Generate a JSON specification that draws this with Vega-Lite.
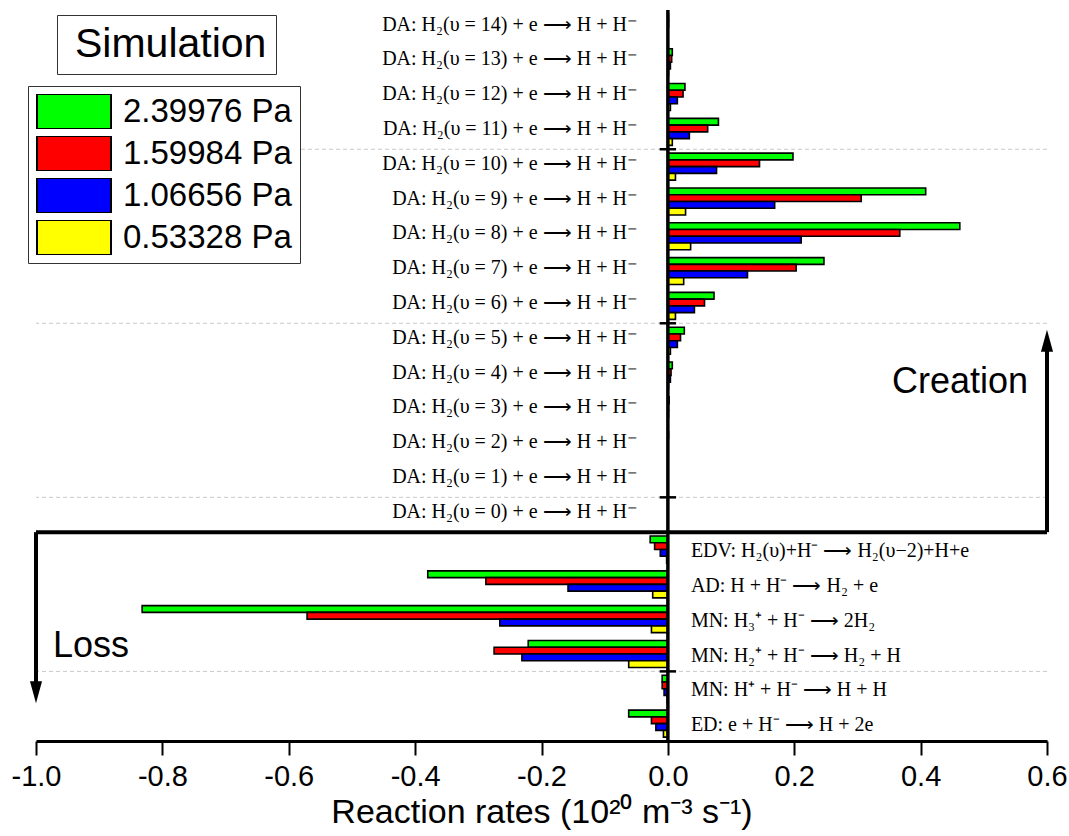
{
  "$schema": "https://vega.github.io/schema/vega-lite/v6.json",
  "width": 1011,
  "height": 731,
  "autosize": {"type": "none"},
  "padding": {"left": 36, "top": 10, "right": 22, "bottom": 95},
  "background": "white",
  "config": {
    "view": {"stroke": null},
    "font": "Liberation Sans",
    "axisY": {"disable": true}
  },
  "datasets": {
    "rates": [
      {"reaction": "DA: H₂(υ = 14) + e ⟶ H + H⁻", "pressure": "2.39976 Pa", "rate": 0.001},
      {"reaction": "DA: H₂(υ = 14) + e ⟶ H + H⁻", "pressure": "1.59984 Pa", "rate": 0.001},
      {"reaction": "DA: H₂(υ = 14) + e ⟶ H + H⁻", "pressure": "1.06656 Pa", "rate": 0.0005},
      {"reaction": "DA: H₂(υ = 14) + e ⟶ H + H⁻", "pressure": "0.53328 Pa", "rate": 0.0002},
      {"reaction": "DA: H₂(υ = 13) + e ⟶ H + H⁻", "pressure": "2.39976 Pa", "rate": 0.007},
      {"reaction": "DA: H₂(υ = 13) + e ⟶ H + H⁻", "pressure": "1.59984 Pa", "rate": 0.006},
      {"reaction": "DA: H₂(υ = 13) + e ⟶ H + H⁻", "pressure": "1.06656 Pa", "rate": 0.004},
      {"reaction": "DA: H₂(υ = 13) + e ⟶ H + H⁻", "pressure": "0.53328 Pa", "rate": 0.001},
      {"reaction": "DA: H₂(υ = 12) + e ⟶ H + H⁻", "pressure": "2.39976 Pa", "rate": 0.027},
      {"reaction": "DA: H₂(υ = 12) + e ⟶ H + H⁻", "pressure": "1.59984 Pa", "rate": 0.024},
      {"reaction": "DA: H₂(υ = 12) + e ⟶ H + H⁻", "pressure": "1.06656 Pa", "rate": 0.015},
      {"reaction": "DA: H₂(υ = 12) + e ⟶ H + H⁻", "pressure": "0.53328 Pa", "rate": 0.004},
      {"reaction": "DA: H₂(υ = 11) + e ⟶ H + H⁻", "pressure": "2.39976 Pa", "rate": 0.080},
      {"reaction": "DA: H₂(υ = 11) + e ⟶ H + H⁻", "pressure": "1.59984 Pa", "rate": 0.063},
      {"reaction": "DA: H₂(υ = 11) + e ⟶ H + H⁻", "pressure": "1.06656 Pa", "rate": 0.034},
      {"reaction": "DA: H₂(υ = 11) + e ⟶ H + H⁻", "pressure": "0.53328 Pa", "rate": 0.007},
      {"reaction": "DA: H₂(υ = 10) + e ⟶ H + H⁻", "pressure": "2.39976 Pa", "rate": 0.198},
      {"reaction": "DA: H₂(υ = 10) + e ⟶ H + H⁻", "pressure": "1.59984 Pa", "rate": 0.145},
      {"reaction": "DA: H₂(υ = 10) + e ⟶ H + H⁻", "pressure": "1.06656 Pa", "rate": 0.077},
      {"reaction": "DA: H₂(υ = 10) + e ⟶ H + H⁻", "pressure": "0.53328 Pa", "rate": 0.012},
      {"reaction": "DA: H₂(υ = 9) + e ⟶ H + H⁻", "pressure": "2.39976 Pa", "rate": 0.408},
      {"reaction": "DA: H₂(υ = 9) + e ⟶ H + H⁻", "pressure": "1.59984 Pa", "rate": 0.306},
      {"reaction": "DA: H₂(υ = 9) + e ⟶ H + H⁻", "pressure": "1.06656 Pa", "rate": 0.169},
      {"reaction": "DA: H₂(υ = 9) + e ⟶ H + H⁻", "pressure": "0.53328 Pa", "rate": 0.028},
      {"reaction": "DA: H₂(υ = 8) + e ⟶ H + H⁻", "pressure": "2.39976 Pa", "rate": 0.462},
      {"reaction": "DA: H₂(υ = 8) + e ⟶ H + H⁻", "pressure": "1.59984 Pa", "rate": 0.367},
      {"reaction": "DA: H₂(υ = 8) + e ⟶ H + H⁻", "pressure": "1.06656 Pa", "rate": 0.211},
      {"reaction": "DA: H₂(υ = 8) + e ⟶ H + H⁻", "pressure": "0.53328 Pa", "rate": 0.036},
      {"reaction": "DA: H₂(υ = 7) + e ⟶ H + H⁻", "pressure": "2.39976 Pa", "rate": 0.247},
      {"reaction": "DA: H₂(υ = 7) + e ⟶ H + H⁻", "pressure": "1.59984 Pa", "rate": 0.203},
      {"reaction": "DA: H₂(υ = 7) + e ⟶ H + H⁻", "pressure": "1.06656 Pa", "rate": 0.126},
      {"reaction": "DA: H₂(υ = 7) + e ⟶ H + H⁻", "pressure": "0.53328 Pa", "rate": 0.025},
      {"reaction": "DA: H₂(υ = 6) + e ⟶ H + H⁻", "pressure": "2.39976 Pa", "rate": 0.073},
      {"reaction": "DA: H₂(υ = 6) + e ⟶ H + H⁻", "pressure": "1.59984 Pa", "rate": 0.058},
      {"reaction": "DA: H₂(υ = 6) + e ⟶ H + H⁻", "pressure": "1.06656 Pa", "rate": 0.042},
      {"reaction": "DA: H₂(υ = 6) + e ⟶ H + H⁻", "pressure": "0.53328 Pa", "rate": 0.012},
      {"reaction": "DA: H₂(υ = 5) + e ⟶ H + H⁻", "pressure": "2.39976 Pa", "rate": 0.026},
      {"reaction": "DA: H₂(υ = 5) + e ⟶ H + H⁻", "pressure": "1.59984 Pa", "rate": 0.020},
      {"reaction": "DA: H₂(υ = 5) + e ⟶ H + H⁻", "pressure": "1.06656 Pa", "rate": 0.015},
      {"reaction": "DA: H₂(υ = 5) + e ⟶ H + H⁻", "pressure": "0.53328 Pa", "rate": 0.004},
      {"reaction": "DA: H₂(υ = 4) + e ⟶ H + H⁻", "pressure": "2.39976 Pa", "rate": 0.007},
      {"reaction": "DA: H₂(υ = 4) + e ⟶ H + H⁻", "pressure": "1.59984 Pa", "rate": 0.005},
      {"reaction": "DA: H₂(υ = 4) + e ⟶ H + H⁻", "pressure": "1.06656 Pa", "rate": 0.004},
      {"reaction": "DA: H₂(υ = 4) + e ⟶ H + H⁻", "pressure": "0.53328 Pa", "rate": 0.001},
      {"reaction": "DA: H₂(υ = 3) + e ⟶ H + H⁻", "pressure": "2.39976 Pa", "rate": 0.002},
      {"reaction": "DA: H₂(υ = 3) + e ⟶ H + H⁻", "pressure": "1.59984 Pa", "rate": 0.001},
      {"reaction": "DA: H₂(υ = 3) + e ⟶ H + H⁻", "pressure": "1.06656 Pa", "rate": 0.001},
      {"reaction": "DA: H₂(υ = 3) + e ⟶ H + H⁻", "pressure": "0.53328 Pa", "rate": 0.0003},
      {"reaction": "DA: H₂(υ = 2) + e ⟶ H + H⁻", "pressure": "2.39976 Pa", "rate": 0.001},
      {"reaction": "DA: H₂(υ = 2) + e ⟶ H + H⁻", "pressure": "1.59984 Pa", "rate": 0.0005},
      {"reaction": "DA: H₂(υ = 2) + e ⟶ H + H⁻", "pressure": "1.06656 Pa", "rate": 0.0004},
      {"reaction": "DA: H₂(υ = 2) + e ⟶ H + H⁻", "pressure": "0.53328 Pa", "rate": 0.0001},
      {"reaction": "DA: H₂(υ = 1) + e ⟶ H + H⁻", "pressure": "2.39976 Pa", "rate": 0.0005},
      {"reaction": "DA: H₂(υ = 1) + e ⟶ H + H⁻", "pressure": "1.59984 Pa", "rate": 0.0003},
      {"reaction": "DA: H₂(υ = 1) + e ⟶ H + H⁻", "pressure": "1.06656 Pa", "rate": 0.0002},
      {"reaction": "DA: H₂(υ = 1) + e ⟶ H + H⁻", "pressure": "0.53328 Pa", "rate": 0.0001},
      {"reaction": "DA: H₂(υ = 0) + e ⟶ H + H⁻", "pressure": "2.39976 Pa", "rate": 0.0002},
      {"reaction": "DA: H₂(υ = 0) + e ⟶ H + H⁻", "pressure": "1.59984 Pa", "rate": 0.0001},
      {"reaction": "DA: H₂(υ = 0) + e ⟶ H + H⁻", "pressure": "1.06656 Pa", "rate": 0.0001},
      {"reaction": "DA: H₂(υ = 0) + e ⟶ H + H⁻", "pressure": "0.53328 Pa", "rate": 0.00005},
      {"reaction": "EDV: H₂(υ)+H⁻ ⟶ H₂(υ−2)+H+e", "pressure": "2.39976 Pa", "rate": -0.028},
      {"reaction": "EDV: H₂(υ)+H⁻ ⟶ H₂(υ−2)+H+e", "pressure": "1.59984 Pa", "rate": -0.021},
      {"reaction": "EDV: H₂(υ)+H⁻ ⟶ H₂(υ−2)+H+e", "pressure": "1.06656 Pa", "rate": -0.012},
      {"reaction": "EDV: H₂(υ)+H⁻ ⟶ H₂(υ−2)+H+e", "pressure": "0.53328 Pa", "rate": -0.002},
      {"reaction": "AD: H + H⁻ ⟶ H₂ + e", "pressure": "2.39976 Pa", "rate": -0.380},
      {"reaction": "AD: H + H⁻ ⟶ H₂ + e", "pressure": "1.59984 Pa", "rate": -0.288},
      {"reaction": "AD: H + H⁻ ⟶ H₂ + e", "pressure": "1.06656 Pa", "rate": -0.158},
      {"reaction": "AD: H + H⁻ ⟶ H₂ + e", "pressure": "0.53328 Pa", "rate": -0.024},
      {"reaction": "MN: H₃⁺ + H⁻ ⟶ 2H₂", "pressure": "2.39976 Pa", "rate": -0.832},
      {"reaction": "MN: H₃⁺ + H⁻ ⟶ 2H₂", "pressure": "1.59984 Pa", "rate": -0.571},
      {"reaction": "MN: H₃⁺ + H⁻ ⟶ 2H₂", "pressure": "1.06656 Pa", "rate": -0.266},
      {"reaction": "MN: H₃⁺ + H⁻ ⟶ 2H₂", "pressure": "0.53328 Pa", "rate": -0.026},
      {"reaction": "MN: H₂⁺ + H⁻ ⟶ H₂ + H", "pressure": "2.39976 Pa", "rate": -0.221},
      {"reaction": "MN: H₂⁺ + H⁻ ⟶ H₂ + H", "pressure": "1.59984 Pa", "rate": -0.275},
      {"reaction": "MN: H₂⁺ + H⁻ ⟶ H₂ + H", "pressure": "1.06656 Pa", "rate": -0.231},
      {"reaction": "MN: H₂⁺ + H⁻ ⟶ H₂ + H", "pressure": "0.53328 Pa", "rate": -0.062},
      {"reaction": "MN: H⁺ + H⁻ ⟶ H + H", "pressure": "2.39976 Pa", "rate": -0.009},
      {"reaction": "MN: H⁺ + H⁻ ⟶ H + H", "pressure": "1.59984 Pa", "rate": -0.009},
      {"reaction": "MN: H⁺ + H⁻ ⟶ H + H", "pressure": "1.06656 Pa", "rate": -0.006},
      {"reaction": "MN: H⁺ + H⁻ ⟶ H + H", "pressure": "0.53328 Pa", "rate": -0.001},
      {"reaction": "ED: e + H⁻ ⟶ H + 2e", "pressure": "2.39976 Pa", "rate": -0.062},
      {"reaction": "ED: e + H⁻ ⟶ H + 2e", "pressure": "1.59984 Pa", "rate": -0.026},
      {"reaction": "ED: e + H⁻ ⟶ H + 2e", "pressure": "1.06656 Pa", "rate": -0.019},
      {"reaction": "ED: e + H⁻ ⟶ H + 2e", "pressure": "0.53328 Pa", "rate": -0.007}
    ],
    "labels": [
      {"reaction": "DA: H₂(υ = 14) + e ⟶ H + H⁻", "kind": "creation"},
      {"reaction": "DA: H₂(υ = 13) + e ⟶ H + H⁻", "kind": "creation"},
      {"reaction": "DA: H₂(υ = 12) + e ⟶ H + H⁻", "kind": "creation"},
      {"reaction": "DA: H₂(υ = 11) + e ⟶ H + H⁻", "kind": "creation"},
      {"reaction": "DA: H₂(υ = 10) + e ⟶ H + H⁻", "kind": "creation"},
      {"reaction": "DA: H₂(υ = 9) + e ⟶ H + H⁻", "kind": "creation"},
      {"reaction": "DA: H₂(υ = 8) + e ⟶ H + H⁻", "kind": "creation"},
      {"reaction": "DA: H₂(υ = 7) + e ⟶ H + H⁻", "kind": "creation"},
      {"reaction": "DA: H₂(υ = 6) + e ⟶ H + H⁻", "kind": "creation"},
      {"reaction": "DA: H₂(υ = 5) + e ⟶ H + H⁻", "kind": "creation"},
      {"reaction": "DA: H₂(υ = 4) + e ⟶ H + H⁻", "kind": "creation"},
      {"reaction": "DA: H₂(υ = 3) + e ⟶ H + H⁻", "kind": "creation"},
      {"reaction": "DA: H₂(υ = 2) + e ⟶ H + H⁻", "kind": "creation"},
      {"reaction": "DA: H₂(υ = 1) + e ⟶ H + H⁻", "kind": "creation"},
      {"reaction": "DA: H₂(υ = 0) + e ⟶ H + H⁻", "kind": "creation"},
      {"reaction": "EDV: H₂(υ)+H⁻ ⟶ H₂(υ−2)+H+e", "kind": "loss"},
      {"reaction": "AD: H + H⁻ ⟶ H₂ + e", "kind": "loss"},
      {"reaction": "MN: H₃⁺ + H⁻ ⟶ 2H₂", "kind": "loss"},
      {"reaction": "MN: H₂⁺ + H⁻ ⟶ H₂ + H", "kind": "loss"},
      {"reaction": "MN: H⁺ + H⁻ ⟶ H + H", "kind": "loss"},
      {"reaction": "ED: e + H⁻ ⟶ H + 2e", "kind": "loss"}
    ],
    "dividers": [
      {"reaction": "DA: H₂(υ = 10) + e ⟶ H + H⁻"},
      {"reaction": "DA: H₂(υ = 5) + e ⟶ H + H⁻"},
      {"reaction": "DA: H₂(υ = 0) + e ⟶ H + H⁻"},
      {"reaction": "MN: H⁺ + H⁻ ⟶ H + H"}
    ],
    "annot": [{"note": "annotation"}]
  },
  "layer": [
    {
      "data": {"name": "dividers"},
      "mark": {"type": "rule", "color": "#c8c8c8", "strokeWidth": 1, "strokeDash": [4, 3]},
      "encoding": {
        "y": {"field": "reaction", "type": "nominal", "bandPosition": 0,
              "scale": {"domain": [
                "DA: H₂(υ = 14) + e ⟶ H + H⁻", "DA: H₂(υ = 13) + e ⟶ H + H⁻", "DA: H₂(υ = 12) + e ⟶ H + H⁻",
                "DA: H₂(υ = 11) + e ⟶ H + H⁻", "DA: H₂(υ = 10) + e ⟶ H + H⁻", "DA: H₂(υ = 9) + e ⟶ H + H⁻",
                "DA: H₂(υ = 8) + e ⟶ H + H⁻", "DA: H₂(υ = 7) + e ⟶ H + H⁻", "DA: H₂(υ = 6) + e ⟶ H + H⁻",
                "DA: H₂(υ = 5) + e ⟶ H + H⁻", "DA: H₂(υ = 4) + e ⟶ H + H⁻", "DA: H₂(υ = 3) + e ⟶ H + H⁻",
                "DA: H₂(υ = 2) + e ⟶ H + H⁻", "DA: H₂(υ = 1) + e ⟶ H + H⁻", "DA: H₂(υ = 0) + e ⟶ H + H⁻",
                "EDV: H₂(υ)+H⁻ ⟶ H₂(υ−2)+H+e", "AD: H + H⁻ ⟶ H₂ + e", "MN: H₃⁺ + H⁻ ⟶ 2H₂",
                "MN: H₂⁺ + H⁻ ⟶ H₂ + H", "MN: H⁺ + H⁻ ⟶ H + H", "ED: e + H⁻ ⟶ H + 2e"],
                "paddingInner": 0, "paddingOuter": 0}}
      }
    },
    {
      "data": {"name": "rates"},
      "mark": {"type": "bar", "stroke": "black", "strokeWidth": 1.6},
      "encoding": {
        "y": {"field": "reaction", "type": "nominal"},
        "yOffset": {"field": "pressure", "type": "nominal",
                    "scale": {"domain": ["2.39976 Pa", "1.59984 Pa", "1.06656 Pa", "0.53328 Pa"], "paddingInner": 0, "paddingOuter": 0.58}},
        "x": {"field": "rate", "type": "quantitative",
              "scale": {"domain": [-1.0, 0.6], "nice": false, "zero": false},
              "axis": {
                "values": [-1.0, -0.8, -0.6, -0.4, -0.2, 0.0, 0.2, 0.4, 0.6],
                "format": ".1f",
                "labelExpr": "replace(datum.label, '−', '-')",
                "labelFlush": false,
                "grid": false,
                "domainColor": "black", "domainWidth": 3,
                "tickColor": "black", "tickWidth": 2, "tickSize": 14,
                "labelFont": "Liberation Sans", "labelFontSize": 29, "labelColor": "black", "labelPadding": 7,
                "title": "Reaction rates (10²⁰ m⁻³ s⁻¹)",
                "titleFont": "Liberation Sans", "titleFontSize": 34, "titleFontWeight": "normal",
                "titleColor": "black", "titlePadding": 4
              }},
        "color": {"field": "pressure", "type": "nominal",
                  "scale": {"domain": ["2.39976 Pa", "1.59984 Pa", "1.06656 Pa", "0.53328 Pa"],
                            "range": ["#00ff00", "#ff0000", "#0000ff", "#ffff00"]},
                  "legend": {
                    "orient": "none", "legendX": -8, "legendY": 76,
                    "title": null,
                    "symbolType": "M-1,-0.47H1V0.47H-1Z",
                    "symbolSize": 5476,
                    "symbolStrokeColor": "black", "symbolStrokeWidth": 2,
                    "clipHeight": 35, "rowPadding": 7,
                    "labelFont": "Liberation Sans", "labelFontSize": 33, "labelColor": "black",
                    "labelOffset": 11, "labelLimit": 400,
                    "padding": 8, "strokeColor": "#333333", "fillColor": "white"
                  }}
      }
    },
    {
      "data": {"name": "dividers"},
      "mark": {"type": "rule", "color": "black", "strokeWidth": 2.5},
      "encoding": {
        "y": {"field": "reaction", "type": "nominal", "bandPosition": 0},
        "x": {"datum": -0.013},
        "x2": {"datum": 0.013}
      }
    },
    {
      "data": {"name": "annot"},
      "mark": {"type": "rule", "color": "black", "strokeWidth": 3.5},
      "encoding": {"x": {"datum": 0}}
    },
    {
      "data": {"name": "annot"},
      "mark": {"type": "rule", "color": "black", "strokeWidth": 4},
      "encoding": {"y": {"datum": "EDV: H₂(υ)+H⁻ ⟶ H₂(υ−2)+H+e", "bandPosition": 0}}
    },
    {
      "data": {"name": "annot"},
      "mark": {"type": "rule", "color": "black", "strokeWidth": 4},
      "encoding": {
        "x": {"datum": -1.0},
        "y": {"datum": "EDV: H₂(υ)+H⁻ ⟶ H₂(υ−2)+H+e", "bandPosition": 0},
        "y2": {"datum": "MN: H⁺ + H⁻ ⟶ H + H"}
      }
    },
    {
      "data": {"name": "annot"},
      "mark": {"type": "rule", "color": "black", "strokeWidth": 4},
      "encoding": {
        "x": {"datum": 0.6},
        "y": {"datum": "EDV: H₂(υ)+H⁻ ⟶ H₂(υ−2)+H+e", "bandPosition": 0},
        "y2": {"datum": "DA: H₂(υ = 5) + e ⟶ H + H⁻"}
      }
    },
    {
      "data": {"name": "annot"},
      "mark": {"type": "point", "shape": "M0,1L-0.55,-1L0.55,-1Z", "filled": true, "color": "black", "opacity": 1, "size": 484},
      "encoding": {
        "x": {"datum": -1.0},
        "y": {"datum": "MN: H⁺ + H⁻ ⟶ H + H", "bandPosition": 0.6}
      }
    },
    {
      "data": {"name": "annot"},
      "mark": {"type": "point", "shape": "M0,-1L0.55,1L-0.55,1Z", "filled": true, "color": "black", "opacity": 1, "size": 484},
      "encoding": {
        "x": {"datum": 0.6},
        "y": {"datum": "DA: H₂(υ = 5) + e ⟶ H + H⁻"}
      }
    },
    {
      "data": {"name": "labels"},
      "transform": [{"filter": "datum.kind === 'creation'"}],
      "mark": {"type": "text", "font": "Liberation Serif", "fontSize": 20, "color": "black", "align": "right", "baseline": "alphabetic"},
      "encoding": {
        "y": {"field": "reaction", "type": "nominal", "bandPosition": 0.59},
        "x": {"datum": -0.0475},
        "text": {"field": "reaction"}
      }
    },
    {
      "data": {"name": "labels"},
      "transform": [{"filter": "datum.kind === 'loss'"}],
      "mark": {"type": "text", "font": "Liberation Serif", "fontSize": 20, "color": "black", "align": "left", "baseline": "alphabetic"},
      "encoding": {
        "y": {"field": "reaction", "type": "nominal", "bandPosition": 0.72},
        "x": {"datum": 0.0364},
        "text": {"field": "reaction"}
      }
    },
    {
      "data": {"name": "annot"},
      "mark": {"type": "text", "font": "Liberation Sans", "fontSize": 36, "color": "black", "align": "right", "baseline": "alphabetic"},
      "encoding": {
        "x": {"datum": 0.57},
        "y": {"datum": "DA: H₂(υ = 4) + e ⟶ H + H⁻", "bandPosition": 1},
        "text": {"value": "Creation"}
      }
    },
    {
      "data": {"name": "annot"},
      "mark": {"type": "text", "font": "Liberation Sans", "fontSize": 36, "color": "black", "align": "left", "baseline": "alphabetic"},
      "encoding": {
        "x": {"datum": -0.973},
        "y": {"datum": "MN: H₂⁺ + H⁻ ⟶ H₂ + H", "bandPosition": 0.6},
        "text": {"value": "Loss"}
      }
    },
    {
      "data": {"name": "annot"},
      "mark": {"type": "point", "opacity": 0, "size": 1},
      "encoding": {
        "x": {"datum": 0},
        "y": {"datum": "DA: H₂(υ = 14) + e ⟶ H + H⁻"},
        "shape": {"datum": "Simulation",
                  "legend": {
                    "orient": "none", "legendX": 21, "legendY": 5,
                    "title": null,
                    "symbolSize": 0, "symbolOpacity": 0, "symbolStrokeWidth": 0,
                    "clipHeight": 41,
                    "labelFont": "Liberation Sans", "labelFontSize": 41, "labelColor": "black",
                    "labelOffset": -32, "labelLimit": 400,
                    "padding": 9, "strokeColor": "#333333", "fillColor": "white"
                  }}
      }
    }
  ]
}
